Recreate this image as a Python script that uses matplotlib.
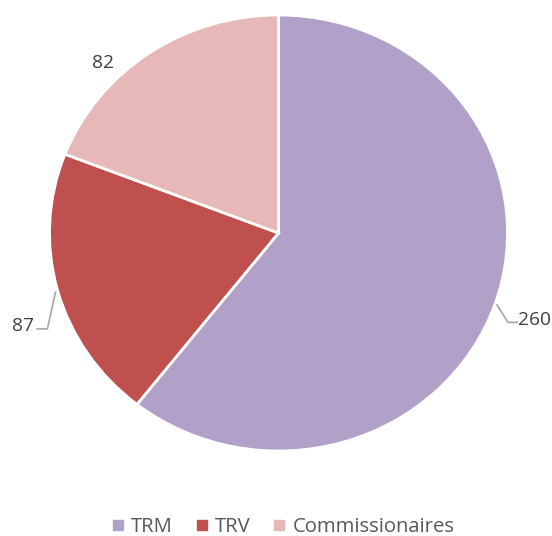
import numpy as np
import matplotlib
matplotlib.use("Agg")
import matplotlib.pyplot as plt
from matplotlib.lines import Line2D

categories = ["TRM", "TRV", "Commissionaires"]
values = [260, 87, 82]
colors = ["#B1A0C7", "#C0504D", "#E6B9B8"]

plt.rcParams['font.family'] = ['Open Sans', 'DejaVu Sans']

W, H = 552, 536
fig = plt.figure(figsize=(W / 100, H / 100), dpi=100)
# pie ellipse in pixels: center (278.5, 233), rx 229, ry 218
cx, cy, rx, ry = 278.5, 233, 229, 218
ax = fig.add_axes([(cx - rx) / W, (H - cy - ry) / H, 2 * rx / W, 2 * ry / H])
wedges, _ = ax.pie(values, colors=colors, startangle=90, counterclock=False,
                   wedgeprops=dict(edgecolor="white", linewidth=2))
ax.set_aspect('auto')
ax.set_xlim(-1, 1)
ax.set_ylim(-1, 1)
ax.axis('off')

txt_color = "#404040"
line_color = "#A6A6A6"
fs = 13.8
for w, v in zip(wedges, values):
    ang = np.deg2rad((w.theta1 + w.theta2) / 2)
    ex, ey = np.cos(ang), np.sin(ang)
    if ex > 0.5:
        p0 = (ex * 1.01, ey * 1.01)
        p1 = (p0[0] + 0.048, -0.41)
        p2 = (p1[0] + 0.04, -0.41)
        ax.plot([p0[0], p1[0], p2[0]], [p0[1], p1[1], p2[1]], color=line_color,
                lw=1.2, clip_on=False)
        ax.text(p2[0] + 0.005, p2[1] + 0.01, str(v), ha='left', va='center',
                fontsize=fs, color=txt_color)
    elif ey < 0:
        p0 = (ex * 1.01, ey * 1.01 - 0.005)
        p1 = (p0[0] - 0.035, -0.44)
        p2 = (p1[0] - 0.045, -0.44)
        ax.plot([p0[0], p1[0], p2[0]], [p0[1], p1[1], p2[1]], color=line_color,
                lw=1.2, clip_on=False)
        ax.text(p2[0] - 0.015, p2[1] + 0.015, str(v), ha='right', va='center',
                fontsize=fs, color=txt_color)
    else:
        ax.text(ex * 1.0 - 0.2, ey * 0.945, str(v), ha='center', va='center',
                fontsize=fs, color=txt_color)

handles = [Line2D([0], [0], marker='s', linestyle='none', markersize=6.5,
                  markerfacecolor=c, markeredgecolor=c) for c in colors]
fig.legend(handles, categories, loc='center', bbox_to_anchor=(0.5127, (H - 527) / H),
           ncol=3, frameon=False, fontsize=14.6, labelcolor="#595959",
           handlelength=0.6, handletextpad=0.35, columnspacing=1.12)

fig.savefig("out.png", dpi=100)
